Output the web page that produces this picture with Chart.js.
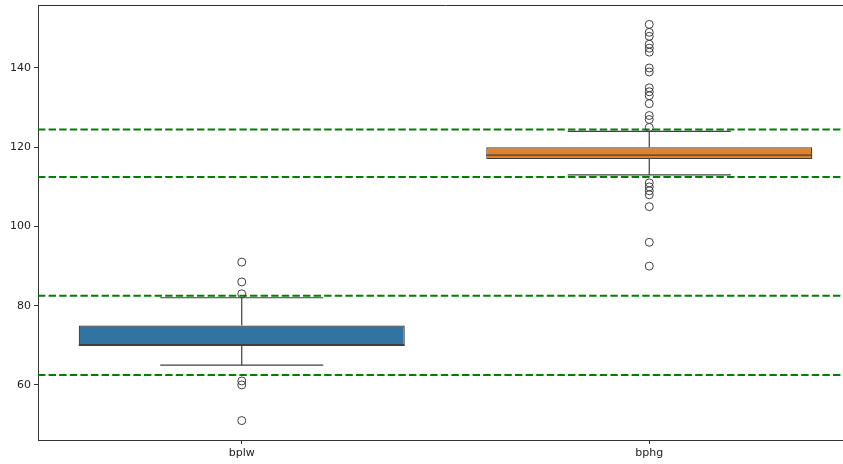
<!DOCTYPE html>
<html>
<head>
<meta charset="utf-8">
<script src="https://cdn.jsdelivr.net/npm/chart.js@4/dist/chart.umd.min.js"></script>
<style>
  html, body { margin: 0; padding: 0; background: #fff; overflow: hidden; }
  #wrap { width: 858px; height: 464px; }
</style>
</head>
<body>
<div id="wrap"><canvas id="graph"></canvas></div>
<script>
// values
var categories = ['bplw', 'bphg'];
var q1 = [70, 117];
var medians = [70, 118];
var q3 = [75, 120];
var whiskLow = [65, 113];
var whiskHigh = [82, 124];
var fliersBplw = [91, 86, 83, 61, 60, 51];
var fliersBphg = [151, 149, 148, 146, 145, 144, 140, 139, 135, 134, 133, 131, 128, 127, 125,
                  111, 110, 109, 108, 105, 96, 90];
var limits = [124.5, 112.5, 82.5, 62.5];
var yTicks = [60, 80, 100, 120, 140];
var boxColors = ['#3274a1', '#e1812c'];

var lineGray = '#3f3f3f';

// whiskers, caps, medians as one broken line
var segs = [];
for (var i = 0; i < categories.length; i++) {
  segs.push({x: i, y: whiskLow[i]}, {x: i, y: q1[i]}, {x: i, y: null});
  segs.push({x: i, y: q3[i]}, {x: i, y: whiskHigh[i]}, {x: i, y: null});
  segs.push({x: i - 0.2, y: whiskLow[i]}, {x: i + 0.2, y: whiskLow[i]}, {x: i, y: null});
  segs.push({x: i - 0.2, y: whiskHigh[i]}, {x: i + 0.2, y: whiskHigh[i]}, {x: i, y: null});
  segs.push({x: i - 0.4, y: medians[i]}, {x: i + 0.4, y: medians[i]}, {x: i, y: null});
}

var limitSegs = [];
limits.forEach(function(v) {
  limitSegs.push({x: -0.5, y: v}, {x: 1.5, y: v}, {x: 0, y: null});
});

var fliers = [];
fliersBplw.forEach(function(v) { fliers.push({x: 0, y: v}); });
fliersBphg.forEach(function(v) { fliers.push({x: 1, y: v}); });

var boxes = [];
for (var j = 0; j < categories.length; j++) {
  boxes.push({x: j, y: [q1[j], q3[j]]});
}

var topBorder = {
  id: 'topBorder',
  afterDraw: function(chart) {
    var a = chart.chartArea, c = chart.ctx;
    c.save();
    c.strokeStyle = '#333';
    c.lineWidth = 1;
    c.beginPath();
    c.moveTo(a.left, a.top + 0.5);
    c.lineTo(a.right, a.top + 0.5);
    c.stroke();
    c.restore();
  }
};

var ctx = document.getElementById('graph');
var chart = new Chart(ctx, {
  data: {
    datasets: [{
      type: 'line',
      data: limitSegs,
      borderColor: '#008000',
      borderWidth: 2,
      borderDash: [7.4, 3.2],
      pointRadius: 0,
      spanGaps: false,
      order: 10
    }, {
      type: 'bar',
      data: boxes,
      backgroundColor: boxColors,
      borderColor: lineGray,
      borderWidth: 1.2,
      borderSkipped: false,
      barPercentage: 0.8,
      categoryPercentage: 1.0,
      order: 5
    }, {
      type: 'line',
      data: segs,
      borderColor: lineGray,
      borderWidth: 1.2,
      pointRadius: 0,
      spanGaps: false,
      order: 4
    }, {
      type: 'scatter',
      data: fliers,
      pointRadius: 4,
      pointBackgroundColor: 'rgba(0,0,0,0)',
      pointBorderColor: lineGray,
      pointBorderWidth: 1,
      order: 1
    }]
  },
  options: {
    responsive: true,
    maintainAspectRatio: false,
    animation: false,
    layout: { padding: { top: 5, right: 0, left: 0, bottom: 0 } },
    plugins: {
      legend: { display: false },
      tooltip: { enabled: false }
    },
    scales: {
      x: {
        type: 'linear',
        min: -0.5,
        max: 1.5,
        offset: false,
        afterBuildTicks: function(s) {
          s.ticks = categories.map(function(c, k) { return {value: k}; });
        },
        afterFit: function(s) { s.height = 24; s.paddingLeft = 0; s.paddingRight = 0; },
        ticks: {
          callback: function(v) { return categories[v]; },
          color: '#222',
          font: { family: 'DejaVu Sans', size: 11 },
          padding: 3,
          maxRotation: 0
        },
        grid: { drawOnChartArea: false, offset: false, tickLength: 4, color: '#333' },
        border: { color: '#333', width: 1 }
      },
      y: {
        min: 46.1,
        max: 155.9,
        afterBuildTicks: function(s) {
          s.ticks = yTicks.map(function(v) { return {value: v}; });
        },
        afterFit: function(s) { s.width = 38; s.paddingTop = 0; s.paddingBottom = 0; },
        ticks: {
          color: '#222',
          font: { family: 'DejaVu Sans', size: 11 },
          padding: 3
        },
        grid: { drawOnChartArea: false, tickLength: 4, color: '#333' },
        border: { color: '#333', width: 1 }
      }
    }
  },
  plugins: [topBorder]
});
</script>
</body>
</html>
